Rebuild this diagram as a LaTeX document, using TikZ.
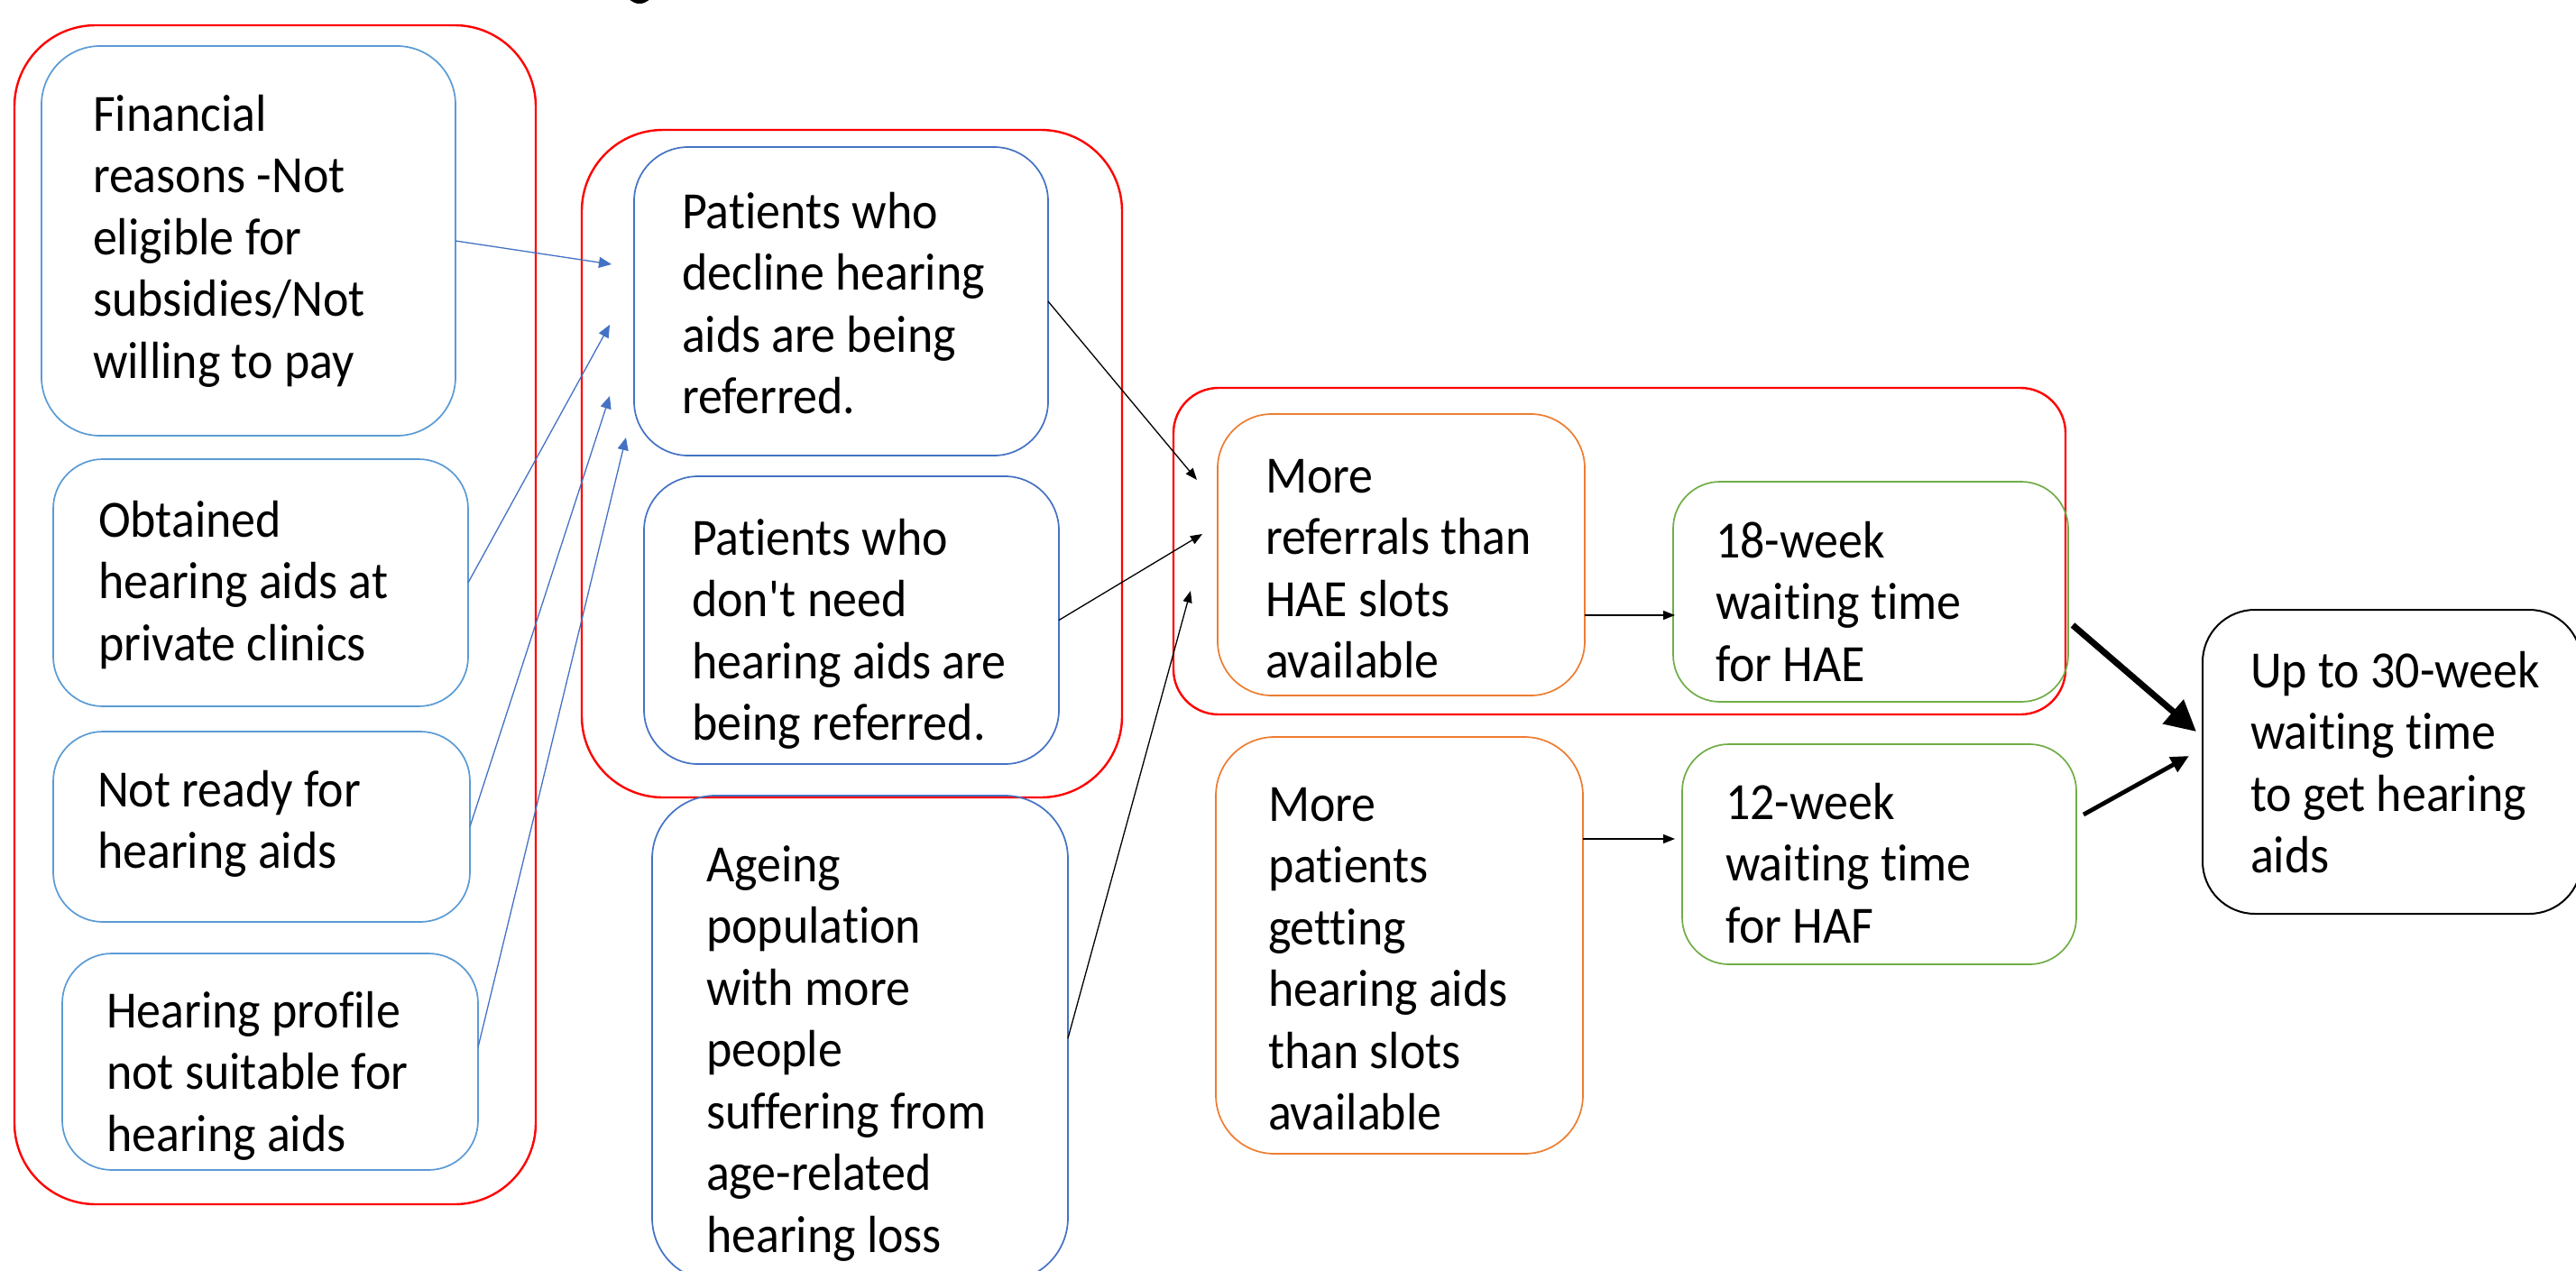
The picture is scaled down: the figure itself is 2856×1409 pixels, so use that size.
\documentclass[tikz,border=0pt]{standalone}
\usepackage{fontspec}
\setmainfont{Carlito}[FakeStretch=0.93,Ligatures={NoCommon}]
\usetikzlibrary{arrows.meta,calc}
\definecolor{redbox}{HTML}{FF0000}
\definecolor{bluelt}{HTML}{5B9BD5}
\definecolor{bluedk}{HTML}{4472C4}
\definecolor{orangebox}{HTML}{ED7D31}
\definecolor{greenbox}{HTML}{70AD47}
\newcommand\mlines[1]{\begin{tabular}[t]{@{}l@{}}#1\end{tabular}}
% name, left, top, right, bottom, radius, style
\newcommand\bx[7]{\node[#7, minimum width={(#4-#2)*0.5pt}, minimum height={(#5-#3)*0.5pt}, rounded corners={#6*0.5pt}] (#1) at ({(#2+#4)/2},{(#3+#5)/2}) {};}
\begin{document}
\begin{tikzpicture}[x=0.5pt,y=-0.5pt,
  boxbase/.style={rectangle, inner sep=0pt, outer sep=0pt},
  redgrp/.style={boxbase, draw=redbox, line width=1.2pt},
  ltblue/.style={boxbase, draw=bluelt, line width=0.85pt},
  dkblue/.style={boxbase, draw=bluedk, line width=0.85pt},
  orbox/.style={boxbase, draw=orangebox, line width=0.85pt},
  grbox/.style={boxbase, draw=greenbox, line width=0.85pt},
  blkbox/.style={boxbase, draw=black, line width=1pt},
  txt/.style={anchor=base west, inner sep=0pt, outer sep=0pt, font=\fontsize{29pt}{34.25pt}\selectfont},
  barr/.style={draw=bluedk, line width=0.65pt, -{Triangle[length=7pt,width=6pt]}},
  karr/.style={draw=black, line width=0.65pt, -{Triangle[length=6.5pt,width=5pt]}},
  thickA/.style={draw=black, line width=3.5pt, -{Triangle[length=17pt,width=17pt]}},
  thickB/.style={draw=black, line width=2.4pt, -{Triangle[length=10pt,width=9pt]}}
]
\useasboundingbox (0,0) rectangle (2856,1409);
\fill[white] (0,0) rectangle (2856,1409);

% fragment of cut-off title
\begin{scope}
\clip (690,0) rectangle (730,5);
\fill[black] (709,-8) ellipse [x radius=7pt, y radius=6pt];
\end{scope}

% group boxes
\bx{redA}{16}{28}{594}{1335}{90}{redgrp}
\bx{redB}{645}{144}{1244}{884}{90}{redgrp}
\bx{redC}{1301}{430}{2290}{792}{50}{redgrp}

% left column
\bx{fin}{46}{51}{505}{483}{65}{ltblue}
\bx{obt}{59}{509}{519}{783}{55}{ltblue}
\bx{nrd}{59}{811}{521}{1022}{55}{ltblue}
\bx{hpr}{69}{1057}{530}{1297}{55}{ltblue}

% middle column
\bx{dec}{703}{163}{1162}{505}{60}{dkblue}
\bx{dnn}{714}{528}{1174}{847}{60}{dkblue}
\bx{age}{723}{882}{1184}{1420}{70}{dkblue}

% right part
\bx{mr}{1350}{459}{1757}{771}{60}{orbox}
\bx{wae}{1855}{534}{2293}{778}{52}{grbox}
\bx{mp}{1348}{817}{1755}{1279}{65}{orbox}
\bx{waf}{1865}{825}{2302}{1069}{52}{grbox}
\bx{fin30}{2442}{676}{2862}{1013}{58}{blkbox}

% texts
\node[txt] (finT) at (103,145) {\mlines{Financial\\reasons -Not\\eligible for\\subsidies/Not\\willing to pay}};
\node[txt] (obtT) at (109,595) {\mlines{Obtained\\hearing aids at\\private clinics}};
\node[txt] (nrdT) at (108,894) {\mlines{Not ready for\\hearing aids}};
\node[txt] (hprT) at (118,1139) {\mlines{Hearing profile\\not suitable for\\hearing aids}};
\node[txt] (decT) at (756,253) {\mlines{Patients who\\decline hearing\\aids are being\\referred.}};
\node[txt] (dnnT) at (767,615) {\mlines{Patients who\\don\textquotesingle t need\\hearing aids are\\being referred.}};
\node[txt] (ageT) at (783,977) {\mlines{Ageing\\population\\with more\\people\\suffering from\\age-related\\hearing loss}};
\node[txt] (mrT) at (1403,546) {\mlines{More\\referrals than\\HAE slots\\available}};
\node[txt] (waeT) at (1902,618) {\mlines{18-week\\waiting time\\for HAE}};
\node[txt] (mpT) at (1406,910) {\mlines{More\\patients\\getting\\hearing aids\\than slots\\available}};
\node[txt] (wafT) at (1913,908) {\mlines{12-week\\waiting time\\for HAF}};
\node[txt] (f30T) at (2495,762) {\mlines{Up to 30-week\\waiting time\\to get hearing\\aids}};

% arrow end points
\coordinate (t1) at (678,293);
\coordinate (t2) at (676,360);
\coordinate (t3) at (676,439);
\coordinate (t4) at (694,485);
\coordinate (b1) at (1327,532);
\coordinate (b2) at (1333,592);
\coordinate (b3) at (1320,655);
\coordinate (g1) at (1857,682);
\coordinate (g2) at (1857,930);
\coordinate (f1) at (2435,811);
\coordinate (f2) at (2427,838);

% blue arrows
\draw[barr] (fin.east) -- (t1);
\draw[barr] (obt.east) -- (t2);
\draw[barr] (nrd.east) -- (t3);
\draw[barr] ($(hpr.east)+(0,-16)$) -- (t4);

% black arrows
\draw[karr] (dec.east) -- (b1);
\draw[karr] (dnn.east) -- (b2);
\draw[karr] (age.east) -- (b3);
\draw[karr] (mr.east |- g1) -- (g1);
\draw[karr] (mp.east |- g2) -- (g2);

% thick arrows
\draw[thickA] ($(wae.east)+(5,37)$) -- (f1);
\draw[thickB] ($(waf.east)+(8,-44)$) -- (f2);
\end{tikzpicture}
\end{document}
